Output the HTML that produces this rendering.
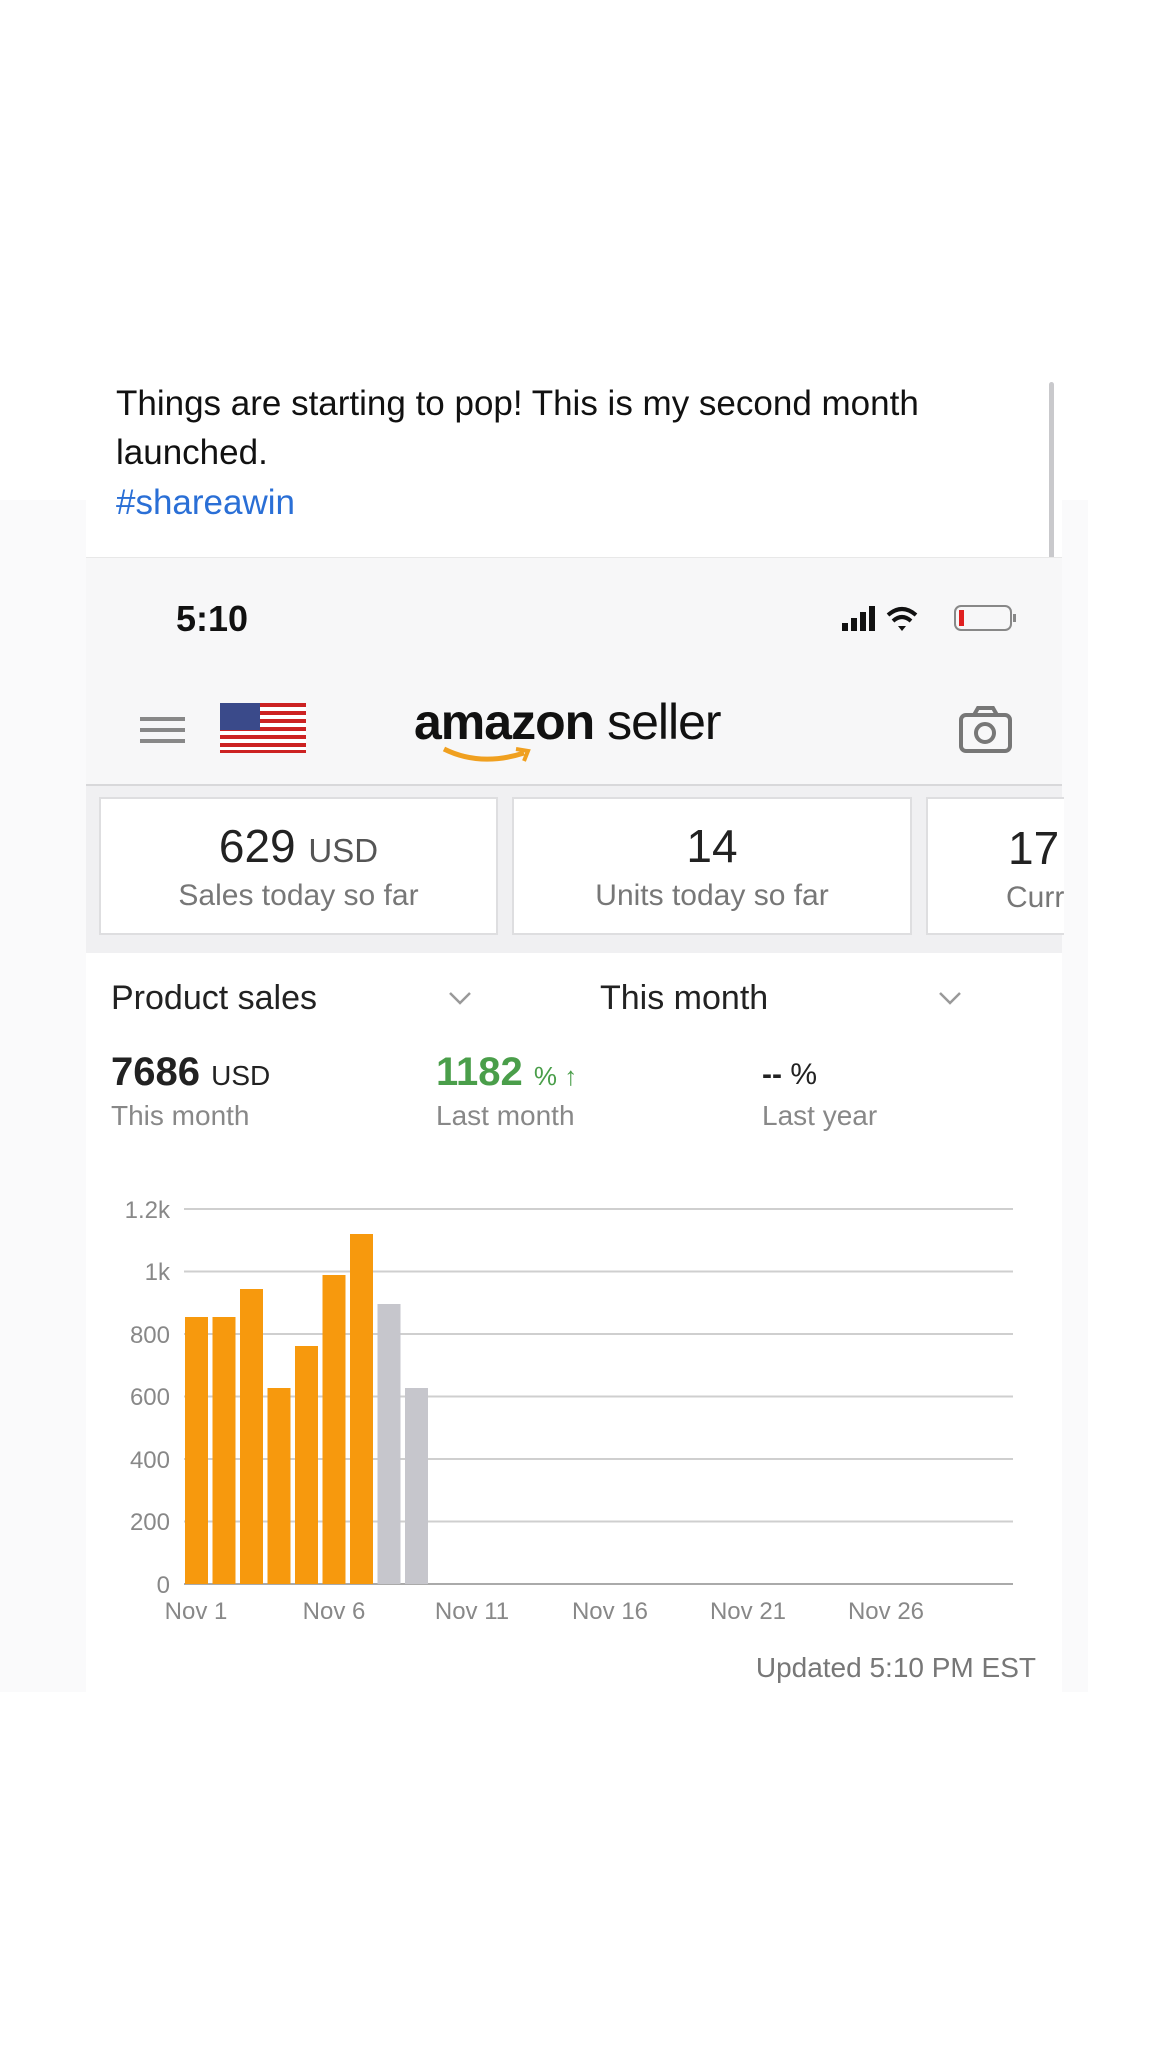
<!DOCTYPE html>
<html><head><meta charset="utf-8"><style>
body{margin:0;width:1152px;height:2048px;background:#fff;position:relative;font-family:"Liberation Sans",sans-serif;overflow:hidden}
.a{position:absolute}
.t{font-size:35px;color:#111;white-space:nowrap}
.c{text-align:center}
</style></head><body>
<div class="a" style="left:0;top:500px;width:1088px;height:1192px;background:#fafafb"></div>
<div class="a" style="left:86px;top:382px;width:976px;height:1310px;background:#fff"></div>
<div class="a" style="left:1049px;top:382px;width:5px;height:415px;background:#c9c9cc;border-radius:3px"></div>
<div class="a t" style="left:116px;top:384px">Things are starting to pop! This is my second month</div>
<div class="a t" style="left:116px;top:433px">launched.</div>
<div class="a t" style="left:116px;top:483px;color:#2a6fd6">#shareawin</div>
<div class="a" style="left:86px;top:557px;width:976px;height:227px;background:#f7f7f8;border-top:1px solid #e8e8e8"></div>
<div class="a" style="left:176px;top:598px;font-size:36px;font-weight:bold;color:#111">5:10</div>
<svg class="a" style="left:840px;top:603px" width="180" height="32">
<rect x="2" y="20" width="6" height="8" fill="#111"/><rect x="11" y="15" width="6" height="13" fill="#111"/><rect x="20" y="9" width="6" height="19" fill="#111"/><rect x="29" y="3" width="6" height="25" fill="#111"/>
<path d="M48 12 Q62 0 76 12" stroke="#111" stroke-width="4" fill="none"/><path d="M53 18 Q62 10 71 18" stroke="#111" stroke-width="4" fill="none"/><path d="M58 23 L62 28 L66 23 Z" fill="#111"/>
<rect x="115" y="3" width="56" height="24" rx="6" fill="none" stroke="#888" stroke-width="2"/><rect x="119" y="7" width="5" height="16" fill="#e02020"/><rect x="173" y="11" width="3" height="8" fill="#888"/>
</svg>
<div class="a" style="left:140px;top:717px;width:45px;height:4px;background:#888"></div>
<div class="a" style="left:140px;top:728px;width:45px;height:4px;background:#888"></div>
<div class="a" style="left:140px;top:739px;width:45px;height:4px;background:#888"></div>
<svg class="a" style="left:220px;top:703px" width="86" height="50"><rect width="86" height="50" fill="#c22"/>
<g fill="#fff"><rect y="4" width="86" height="4"/><rect y="12" width="86" height="4"/><rect y="20" width="86" height="4"/><rect y="28" width="86" height="4"/><rect y="36" width="86" height="4"/><rect y="44" width="86" height="3"/></g><rect width="40" height="27" fill="#3a4a8a"/></svg>
<div class="a" style="left:414px;top:693px;font-size:50px;color:#111;letter-spacing:-1px"><b>amazon</b> seller</div>
<svg class="a" style="left:440px;top:745px" width="100" height="25"><path d="M4 4 Q40 22 84 8" stroke="#f0a020" stroke-width="5" fill="none"/><path d="M76 4 L88 6 L84 16" stroke="#f0a020" stroke-width="4" fill="none"/></svg>
<svg class="a" style="left:958px;top:705px" width="56" height="50"><rect x="3" y="10" width="49" height="36" rx="5" fill="none" stroke="#777" stroke-width="4"/><path d="M16 10 L20 3 L35 3 L39 10" fill="none" stroke="#777" stroke-width="4"/><circle cx="27" cy="28" r="9" fill="none" stroke="#777" stroke-width="4"/></svg>
<div class="a" style="left:86px;top:784px;width:976px;height:167px;background:#f0f0f2;border-top:2px solid #d8d8da"></div>
<div class="a" style="left:99px;top:797px;width:395px;height:134px;background:#fff;border:2px solid #dedee0"></div>
<div class="a" style="left:512px;top:797px;width:396px;height:134px;background:#fff;border:2px solid #dedee0"></div>
<div class="a" style="left:926px;top:797px;width:136px;height:134px;background:#fff;border:2px solid #dedee0;border-right:none;overflow:hidden"><div style="position:absolute;left:80px;top:22px;font-size:46px;color:#222">17</div><div style="position:absolute;left:78px;top:82px;font-size:30px;color:#777">Curr</div></div>
<div class="a c" style="left:99px;top:819px;width:399px;font-size:46px;color:#222">629 <span style="font-size:33px;color:#555">USD</span></div>
<div class="a c" style="left:99px;top:879px;width:399px;font-size:30px;color:#777">Sales today so far</div>
<div class="a c" style="left:512px;top:819px;width:400px;font-size:46px;color:#222">14</div>
<div class="a c" style="left:512px;top:879px;width:400px;font-size:30px;color:#777">Units today so far</div>
<div class="a" style="left:111px;top:979px;font-size:34px;color:#222">Product sales</div>
<div class="a" style="left:600px;top:979px;font-size:34px;color:#222">This month</div>
<svg class="a" style="left:448px;top:990px" width="24" height="16"><path d="M2 3 L12 13 L22 3" stroke="#999" stroke-width="2.5" fill="none"/></svg>
<svg class="a" style="left:938px;top:990px" width="24" height="16"><path d="M2 3 L12 13 L22 3" stroke="#999" stroke-width="2.5" fill="none"/></svg>
<div class="a" style="left:111px;top:1050px;font-size:40px;font-weight:bold;color:#222">7686 <span style="font-size:28px;font-weight:normal">USD</span></div>
<div class="a" style="left:111px;top:1100px;font-size:28px;color:#888">This month</div>
<div class="a" style="left:436px;top:1050px;font-size:40px;font-weight:bold;color:#4a9e4a">1182 <span style="font-size:26px;font-weight:normal">% ↑</span></div>
<div class="a" style="left:436px;top:1100px;font-size:28px;color:#888">Last month</div>
<div class="a" style="left:762px;top:1058px;font-size:30px;color:#222"><b>--</b> %</div>
<div class="a" style="left:762px;top:1100px;font-size:28px;color:#888">Last year</div>
<svg class="a" style="left:0;top:1180px" width="1100" height="460" font-family="Liberation Sans" font-size="24" fill="#888">
<g stroke="#cfcfcf" stroke-width="2">
<line x1="184" y1="29" x2="1013" y2="29"/><line x1="184" y1="91.5" x2="1013" y2="91.5"/><line x1="184" y1="154" x2="1013" y2="154"/><line x1="184" y1="216.5" x2="1013" y2="216.5"/><line x1="184" y1="279" x2="1013" y2="279"/><line x1="184" y1="341.5" x2="1013" y2="341.5"/><line x1="184" y1="404" x2="1013" y2="404" stroke="#aaa"/></g>
<g text-anchor="end"><text x="170" y="38">1.2k</text><text x="170" y="100">1k</text><text x="170" y="163">800</text><text x="170" y="225">600</text><text x="170" y="288">400</text><text x="170" y="350">200</text><text x="170" y="413">0</text></g>
<g fill="#f7990d">
<rect x="185" y="137" width="23" height="267"/><rect x="212.5" y="137" width="23" height="267"/><rect x="240" y="109" width="23" height="295"/><rect x="267.5" y="208" width="23" height="196"/><rect x="295" y="166" width="23" height="238"/><rect x="322.5" y="95" width="23" height="309"/><rect x="350" y="54" width="23" height="350"/></g>
<g fill="#c6c6cc"><rect x="377.5" y="124" width="23" height="280"/><rect x="405" y="208" width="23" height="196"/></g>
<g text-anchor="middle"><text x="196" y="439">Nov 1</text><text x="334" y="439">Nov 6</text><text x="472" y="439">Nov 11</text><text x="610" y="439">Nov 16</text><text x="748" y="439">Nov 21</text><text x="886" y="439">Nov 26</text></g>
</svg>
<div class="a" style="right:116px;top:1652px;font-size:28px;color:#777">Updated 5:10 PM EST</div>
</body></html>
